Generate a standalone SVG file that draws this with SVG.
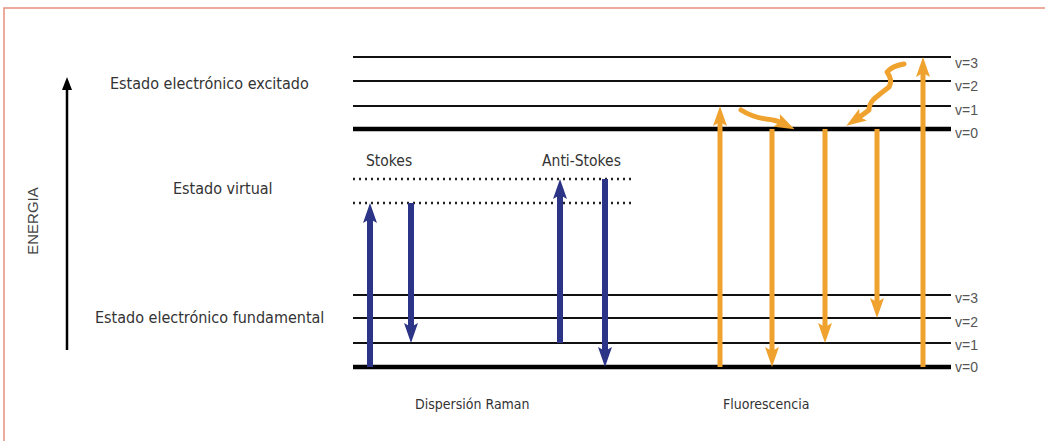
<svg xmlns="http://www.w3.org/2000/svg" width="1045" height="441" viewBox="0 0 1045 441">
<defs>
<style>
.t{font-family:"DejaVu Sans Condensed","Liberation Sans",sans-serif;font-size:16px;fill:#333}
.s{font-family:"DejaVu Sans Condensed","Liberation Sans",sans-serif;font-size:15.5px;fill:#333}
.c{font-family:"DejaVu Sans Condensed","Liberation Sans",sans-serif;font-size:14px;fill:#333}
.e{font-family:"Liberation Sans",sans-serif;font-size:15px;fill:#444}
.v{font-family:"Liberation Sans",sans-serif;font-size:14px;fill:#555}
.lv{stroke:#111;stroke-width:2}
.lv0{stroke:#000;stroke-width:4.5}
.dot{stroke:#222;stroke-width:2.5;stroke-dasharray:2 4}
.b{stroke:#2b3486;stroke-width:6;fill:none}
.o{stroke:#f0a22e;stroke-width:5;fill:none}
.ow{stroke:#f0a22e;stroke-width:5;fill:none;stroke-linecap:round;stroke-linejoin:round}
</style>
<marker id="bh" markerUnits="userSpaceOnUse" viewBox="0 0 20 14" refX="6" refY="7" markerWidth="20" markerHeight="14" orient="auto"><path d="M0,0 L20,7 L0,14 L4,7 Z" fill="#2b3486"/></marker>
<marker id="oh" markerUnits="userSpaceOnUse" viewBox="0 0 20 14" refX="6" refY="7" markerWidth="20" markerHeight="14" orient="auto"><path d="M0,0 L20,7 L0,14 L4,7 Z" fill="#f0a22e"/></marker>
<marker id="kh" markerUnits="userSpaceOnUse" viewBox="0 0 13 10" refX="2" refY="5" markerWidth="13" markerHeight="10" orient="auto"><path d="M0,0 L13,5 L0,10 Z" fill="#000"/></marker>
</defs>
<rect width="1045" height="441" fill="#fff"/>
<path d="M1045,8 H4 V441" fill="none" stroke="#e8907f" stroke-width="1.5"/>

<g id="levels">
<line class="lv" x1="353" y1="57" x2="951" y2="57"/>
<line class="lv" x1="353" y1="81" x2="951" y2="81"/>
<line class="lv" x1="353" y1="106" x2="951" y2="106"/>
<line class="lv0" x1="353" y1="129" x2="951" y2="129"/>
<line class="dot" x1="353" y1="179" x2="634" y2="179"/>
<line class="dot" x1="353" y1="203" x2="634" y2="203"/>
<line class="lv" x1="353" y1="295" x2="951" y2="295"/>
<line class="lv" x1="353" y1="318" x2="951" y2="318"/>
<line class="lv" x1="353" y1="343" x2="951" y2="343"/>
<line class="lv0" x1="353" y1="367" x2="951" y2="367"/>
</g>

<g id="labels">
<text class="t" x="110" y="89">Estado electrónico  excitado</text>
<text class="t" x="173" y="194">Estado virtual</text>
<text class="t" x="95" y="323">Estado electrónico  fundamental</text>
<text class="e" x="0" y="0" transform="translate(38,221) rotate(-90)" text-anchor="middle">ENERGIA</text>
<text class="s" x="366" y="166">Stokes</text>
<text class="s" x="542" y="166">Anti-Stokes</text>
<text class="c" x="415" y="409">Dispersión  Raman</text>
<text class="c" x="723" y="409">Fluorescencia</text>
<text class="v" x="955" y="68">v=3</text>
<text class="v" x="955" y="91">v=2</text>
<text class="v" x="955" y="115">v=1</text>
<text class="v" x="955" y="138">v=0</text>
<text class="v" x="955" y="303">v=3</text>
<text class="v" x="955" y="327">v=2</text>
<text class="v" x="955" y="350">v=1</text>
<text class="v" x="955" y="372">v=0</text>
</g>

<g id="connectors">
<line x1="67" y1="350" x2="67" y2="88" stroke="#000" stroke-width="2.5" marker-end="url(#kh)"/>
<line class="b" x1="370" y1="367" x2="370" y2="217" marker-end="url(#bh)"/>
<line class="b" x1="411" y1="203" x2="411" y2="329" marker-end="url(#bh)"/>
<line class="b" x1="560" y1="343" x2="560" y2="193" marker-end="url(#bh)"/>
<line class="b" x1="605" y1="179" x2="605" y2="353" marker-end="url(#bh)"/>
<line class="o" x1="720" y1="367" x2="720" y2="120" marker-end="url(#oh)"/>
<line class="o" x1="772" y1="129" x2="772" y2="353" marker-end="url(#oh)"/>
<line class="o" x1="825" y1="129" x2="825" y2="329" marker-end="url(#oh)"/>
<line class="o" x1="877" y1="129" x2="877" y2="304" marker-end="url(#oh)"/>
<line class="o" x1="923" y1="367" x2="923" y2="71" marker-end="url(#oh)"/>
<path class="ow" d="M741,110 Q752,117 766,119 Q776,120 782,123" marker-end="url(#oh)"/>
<path class="ow" d="M904,64 Q892,66 887,72 Q893,80 889,87 Q881,93 874,99 Q869,104 869,110 Q864,114 858,118" marker-end="url(#oh)"/>
</g>
</svg>
